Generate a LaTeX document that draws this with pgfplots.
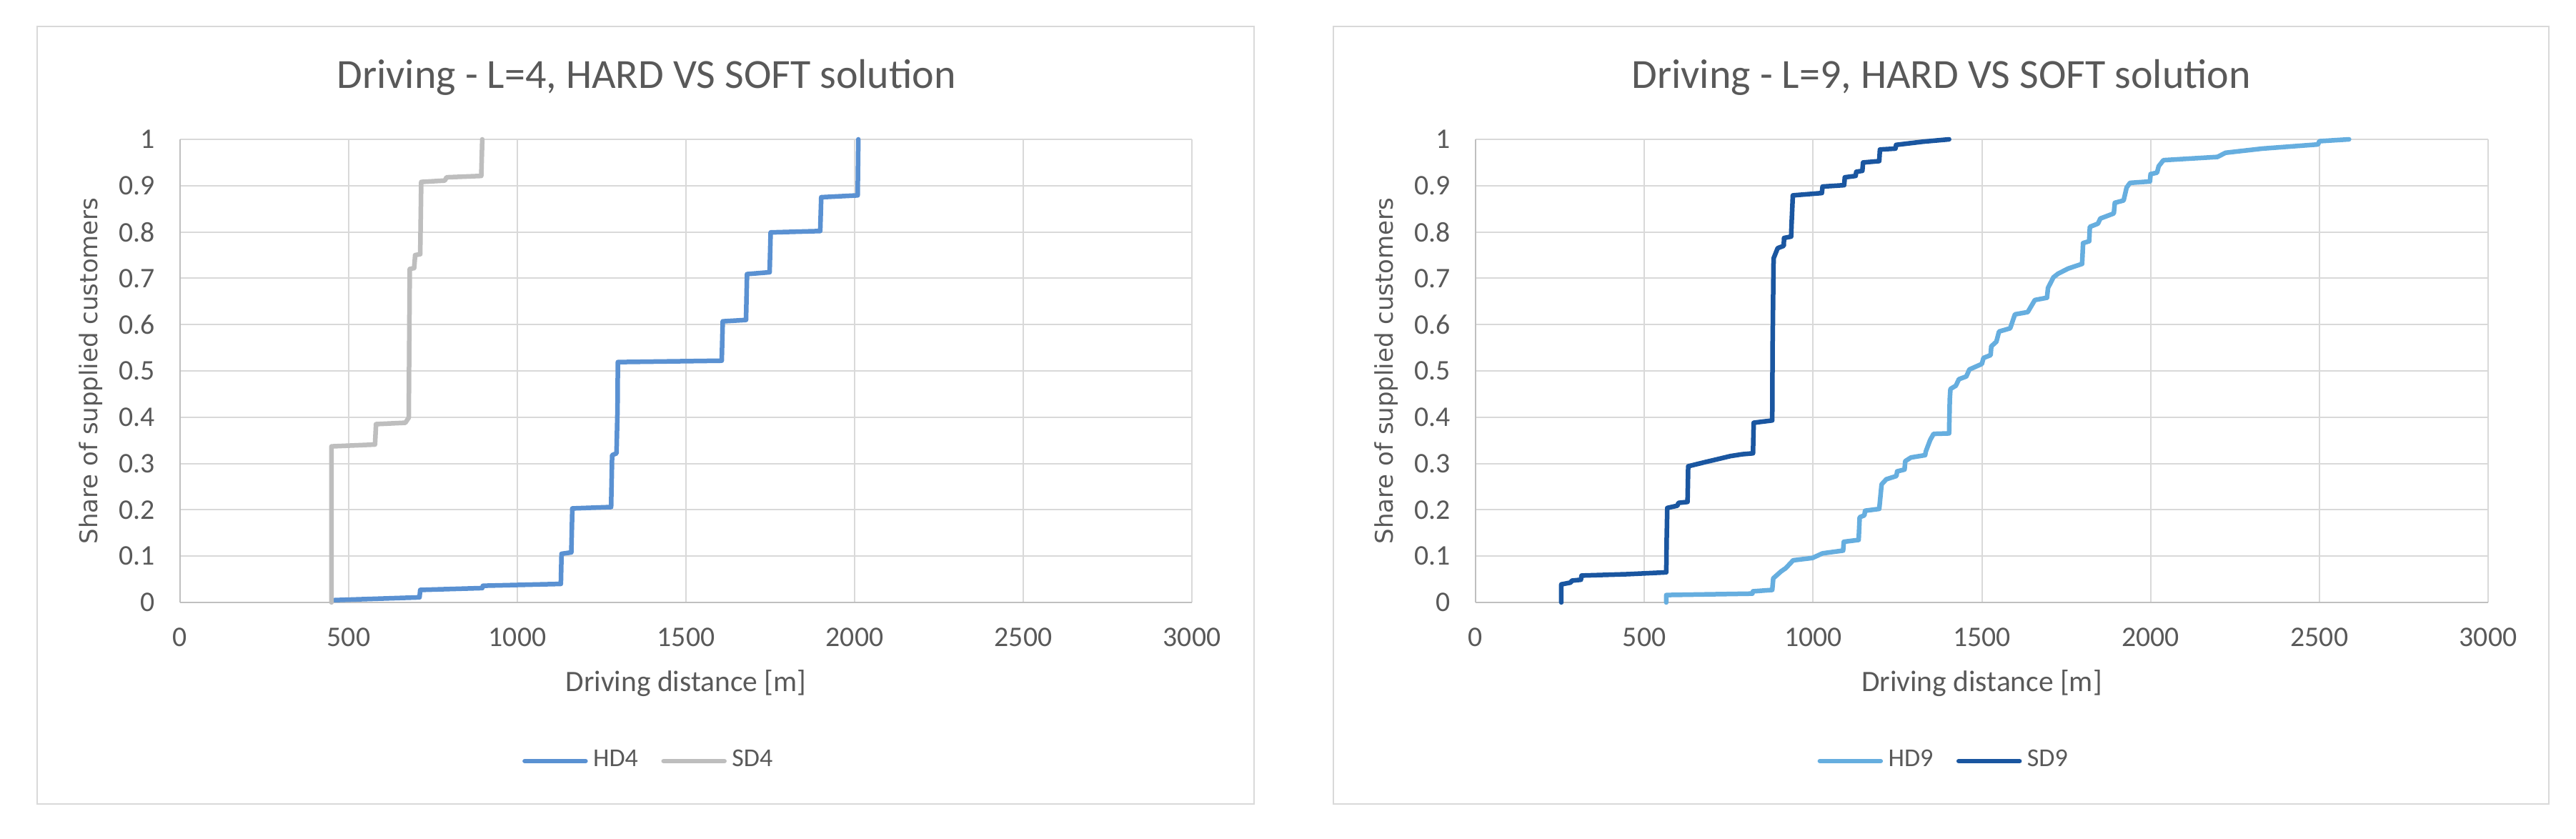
\documentclass[border=0pt]{standalone}
\usepackage{fontspec}
\setmainfont{Carlito}
\newfontfamily\dejavu{DejaVu Sans}
\usepackage{pgfplots}
\pgfplotsset{compat=1.18}
\definecolor{txt}{HTML}{595959}
\definecolor{gridc}{HTML}{D9D9D9}
\definecolor{axc}{HTML}{BFBFBF}
\definecolor{hdfour}{HTML}{5A91D2}
\definecolor{sdfour}{HTML}{BEBEBE}
\definecolor{hdnine}{HTML}{66AEDF}
\definecolor{sdnine}{HTML}{1A56A0}
\pgfplotsset{mystyle/.style={
 width=283.2pt, height=129.6pt, scale only axis,
 xmin=0,xmax=3000,ymin=0,ymax=1,
 xtick={0,500,1000,1500,2000,2500,3000},
 ytick={0,0.1,0.2,0.3,0.4,0.5,0.6,0.7,0.8,0.9,1},
 grid=major, grid style={gridc, line width=0.4pt},
 axis x line*=bottom, axis y line*=left,
 axis line style={axc, line width=0.55pt, -},
 major tick length=0pt,
 tick label style={font=\fontsize{7.95}{9}\selectfont, text=txt},
 /pgf/number format/assume math mode=true,
 xticklabel style={anchor=center, yshift=-9.8pt, /pgf/number format/set thousands separator={}},
 yticklabel style={anchor=east, inner sep=0pt, xshift=-6.8pt, /pgf/number format/fixed, /pgf/number format/precision=1},
 xlabel style={at={(axis description cs:0.5,-0.1744)}, anchor=center, font=\fontsize{8.3}{10}\selectfont, text=txt},
 ylabel style={at={(axis description cs:-0.0883,0.5)}, anchor=center, font=\dejavu\fontsize{6.8}{8}\selectfont, text=txt},
 title style={anchor=center, font=\fontsize{11.6}{14}\selectfont, text=txt},
 legend columns=2,
 legend style={draw=none, fill=none, font=\fontsize{7.2}{8}\selectfont, text=txt, anchor=center,
   nodes={font=\fontsize{7.2}{8}\selectfont, text=txt, inner xsep=1.5pt},
   /tikz/every even column/.append style={column sep=5pt}},
 legend image code/.code={\draw[#1, line width=1.3pt, line cap=round] (0pt,0pt) -- (17pt,0pt);},
 clip=false,
 every axis plot/.append style={line width=1.3pt, line join=round, line cap=round},
 xlabel={Driving distance [m]},
 ylabel={Share of supplied customers},
}}
\begin{document}
\begin{tikzpicture}
\useasboundingbox (0,0) rectangle (721pt,234.8pt);
\fill[white] (0,0) rectangle (721pt,234.8pt);
\draw[gridc, line width=0.5pt] (10.4pt,9.8pt) rectangle (351pt,227.4pt);
\draw[gridc, line width=0.5pt] (373.2pt,9.8pt) rectangle (713.4pt,227.4pt);
\begin{axis}[mystyle, at={(50.4pt,66.2pt)}, anchor=south west,
  title={Driving - L=4, HARD VS SOFT solution},
  title style={at={(axis description cs:0.461,1.088)}},
  legend style={at={(axis description cs:0.4647,-0.3426)}}]
\addplot[hdfour] coordinates {
(458,0.005) (710,0.011) (712,0.027) (896,0.031) (898,0.036) (1129,0.040)
(1131,0.105) (1160,0.108) (1163,0.203) (1278,0.206) (1281,0.318) (1294,0.322)
(1297,0.417) (1298,0.519) (1606,0.522) (1609,0.607) (1678,0.610) (1681,0.709)
(1748,0.713) (1751,0.799) (1898,0.802) (1901,0.875) (2009,0.879) (2011,1.000)};
\addlegendentry{HD4}
\addplot[sdfour] coordinates {
(449,0.000) (449,0.337) (578,0.341) (581,0.385) (668,0.388) (678,0.399)
(681,0.720) (694,0.722) (697,0.750) (712,0.752) (715,0.908) (785,0.911)
(790,0.918) (893,0.921) (896,1.000)};
\addlegendentry{SD4}
\end{axis}
\begin{axis}[mystyle, at={(413pt,66.2pt)}, anchor=south west, width=283.4pt,
  title={Driving - L=9, HARD VS SOFT solution},
  title style={at={(axis description cs:0.460,1.088)}},
  legend style={at={(axis description cs:0.464,-0.3426)}}]
\addplot[hdnine] coordinates {
(565,0.000) (565,0.016) (820,0.019) (822,0.024) (879,0.027) (882,0.052)
(905,0.067) (919,0.074) (941,0.091) (998,0.096) (1028,0.106) (1089,0.112)
(1091,0.131) (1135,0.135) (1138,0.184) (1152,0.188) (1154,0.198) (1196,0.202)
(1203,0.255) (1217,0.266) (1247,0.273) (1249,0.283) (1271,0.287) (1273,0.305)
(1290,0.313) (1332,0.318) (1334,0.326) (1347,0.351) (1357,0.364) (1403,0.365)
(1405,0.439) (1407,0.461) (1423,0.468) (1432,0.482) (1454,0.488) (1463,0.503)
(1500,0.515) (1505,0.528) (1526,0.534) (1528,0.553) (1543,0.563) (1551,0.585)
(1584,0.592) (1598,0.622) (1636,0.627) (1657,0.653) (1693,0.658) (1696,0.679)
(1712,0.702) (1726,0.710) (1756,0.721) (1797,0.731) (1800,0.776) (1818,0.780)
(1820,0.811) (1844,0.818) (1851,0.829) (1891,0.840) (1894,0.863) (1920,0.868)
(1929,0.896) (1939,0.906) (1998,0.909) (2000,0.925) (2019,0.928) (2024,0.942)
(2038,0.955) (2198,0.962) (2222,0.971) (2331,0.980) (2496,0.989) (2500,0.996)
(2588,1.000)};
\addlegendentry{HD9}
\addplot[sdnine] coordinates {
(254,0.000) (254,0.039) (282,0.043) (285,0.047) (312,0.049) (314,0.058)
(450,0.061) (565,0.065) (566,0.128) (568,0.204) (598,0.209) (601,0.215)
(628,0.217) (630,0.294) (680,0.303) (715,0.309) (755,0.316) (790,0.320)
(822,0.322) (824,0.388) (879,0.393) (880,0.553) (883,0.743) (895,0.765)
(913,0.770) (914,0.787) (935,0.790) (936,0.813) (940,0.879) (1026,0.884)
(1028,0.898) (1092,0.901) (1094,0.918) (1126,0.921) (1128,0.930) (1146,0.932)
(1148,0.950) (1196,0.953) (1198,0.978) (1244,0.980) (1246,0.988) (1326,0.995)
(1403,1.000)};
\addlegendentry{SD9}
\end{axis}
\end{tikzpicture}
\end{document}
